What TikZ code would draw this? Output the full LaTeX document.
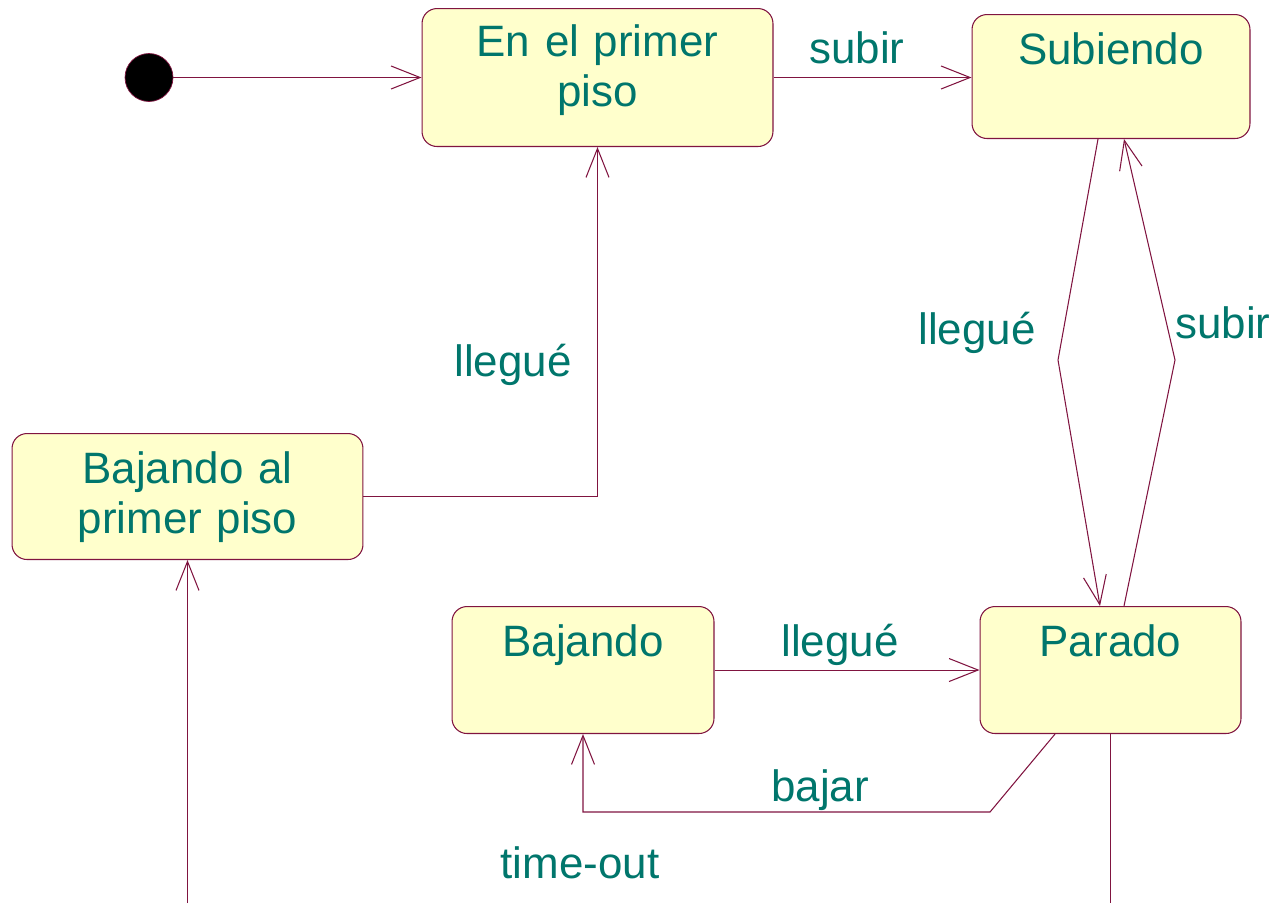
\documentclass[tikz,border=0pt]{standalone}
\usepackage{fontspec}
\setmainfont{Liberation Sans}
\usetikzlibrary{arrows.meta}
\definecolor{edgered}{RGB}{128,20,64}
\definecolor{statefill}{RGB}{255,255,204}
\definecolor{labelteal}{RGB}{0,118,108}
\begin{document}
\begin{tikzpicture}[x=0.02cm, y=-0.02cm,
		state/.style={draw=edgered, fill=statefill, rounded corners=0.3cm, line width=0.6pt,
			inner sep=0pt, align=center, anchor=north, text=labelteal, text height=1cm,
			font=\fontsize{25}{28.45}\selectfont},
		trans/.style={draw=edgered, line width=0.6pt, -{Straight Barb[length=5.8mm, width=4.6mm]}},
		plain/.style={draw=edgered, line width=0.6pt},
		event/.style={anchor=base, inner sep=0pt, text=labelteal, font=\fontsize{25}{28.45}\selectfont}]
		\useasboundingbox (0,0) rectangle (1280,903);
		% initial state
		\node[circle, fill=black, draw=edgered, minimum size=0.96cm, inner sep=0pt] (init) at (149,77.5) {};
		% states
		\node[state, text width=7.02cm, text height=0.96cm, text depth=1.8cm] (enpiso) at (597.5,8) {En el primer\\piso};
		\node[state, text width=5.56cm, text depth=1.48cm] (subiendo) at (1111,14) {Subiendo};
		\node[state, text width=7.02cm, text depth=1.52cm] (bajpiso) at (187.5,433) {Bajando al\\primer piso};
		\node[state, text width=5.24cm, text depth=1.54cm] (bajando) at (583,606) {Bajando};
		\node[state, text width=5.22cm, text depth=1.54cm] (parado) at (1110.5,606) {Parado};
		% bends and loose ends
		\coordinate (bendl) at (1058,360);
		\coordinate (bendr) at (1175,360);
		\coordinate (bendb) at (990,812);
		\coordinate (outl) at (188,903);
		\coordinate (outr) at (1111,903);
		% transitions
		\draw[trans] (init) -- (init -| enpiso.west);
		\draw[trans] (enpiso.east |- init) -- (init -| subiendo.west);
		\draw[trans] (bajpiso.east) -| (enpiso.south);
		\draw[trans] ([xshift=-0.26cm]subiendo.south) -- (bendl) -- ([xshift=-0.21cm]parado.north);
		\draw[trans] ([xshift=0.27cm]parado.north) -- (bendr) -- ([xshift=0.26cm]subiendo.south);
		\draw[trans] (bajando.east) -- (parado.west);
		\draw[trans] ([xshift=-1.11cm]parado.south) -- (bendb) -| (bajando.south);
		\draw[plain] (parado.south) -- (parado.south |- outr);
		\draw[trans] (bajpiso.south |- outl) -- (bajpiso.south);
		% events
		\node[event] (evsubir) at (857,63) {subir};
		\node[event] (evllego) at (513,376) {llegué};
		\node[event] (evllegob) at (977,344) {llegué};
		\node[event] (evsubirb) at (1223,338) {subir};
		\node[event] (evllegoc) at (840,656) {llegué};
		\node[event] (evbajar) at (820,801) {bajar};
		\node[event] (evtime) at (580,878) {time-out};
	\end{tikzpicture}
\end{document}
